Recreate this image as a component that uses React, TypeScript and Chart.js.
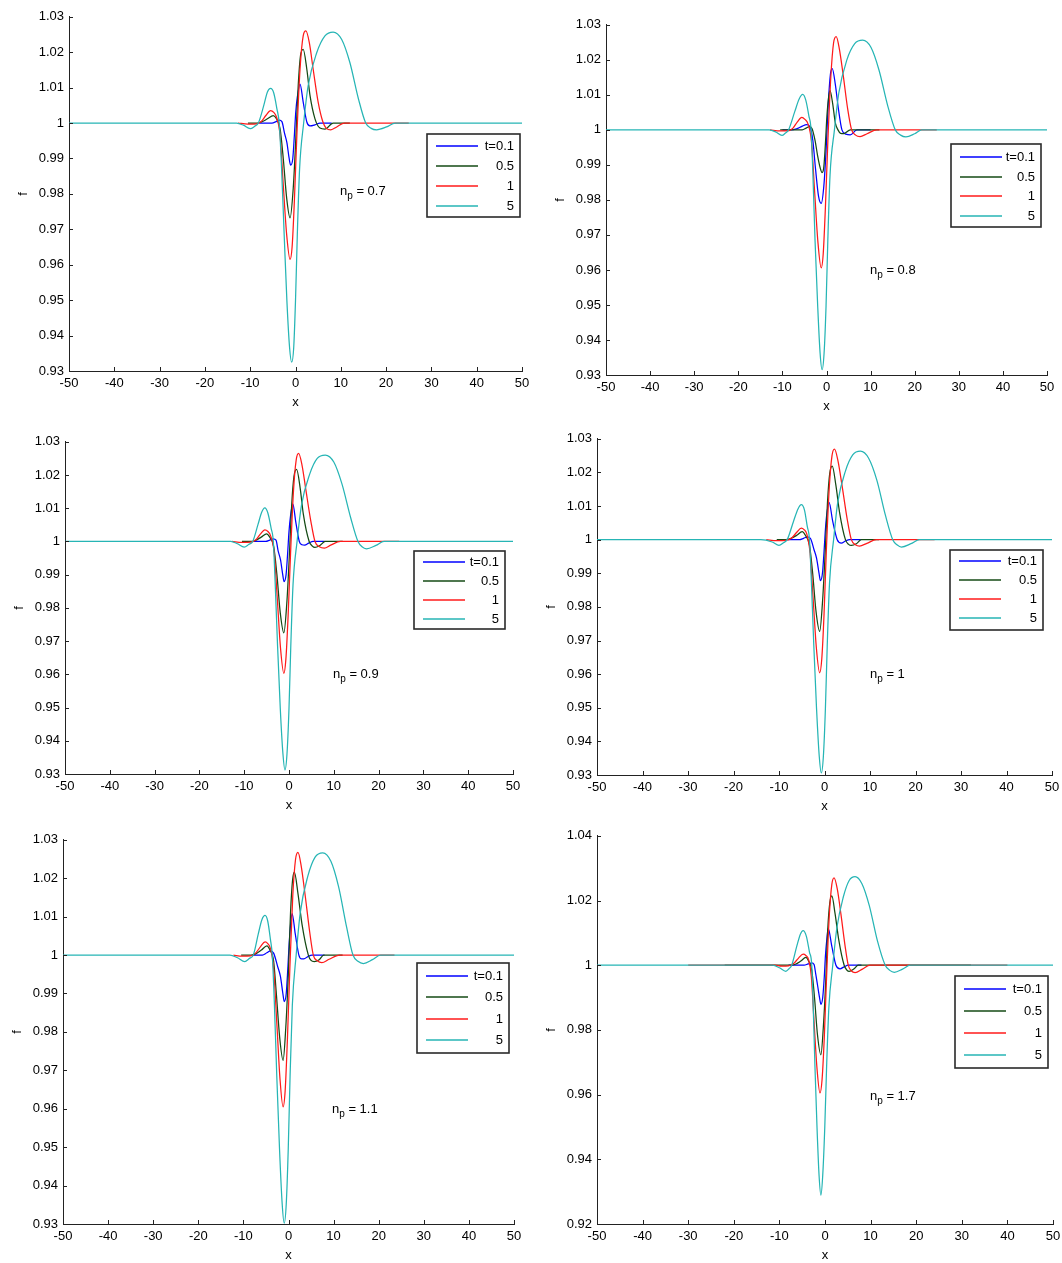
import React, { useEffect, useRef } from 'react';
import { Chart, registerables } from 'chart.js';
Chart.register(...registerables);

// ---------- tick labels / categories ----------
const X_TICKS = [-50, -40, -30, -20, -10, 0, 10, 20, 30, 40, 50];
const Y_TICKS_A = [0.93, 0.94, 0.95, 0.96, 0.97, 0.98, 0.99, 1, 1.01, 1.02, 1.03];
const Y_TICKS_B = [0.92, 0.94, 0.96, 0.98, 1, 1.02, 1.04];
const SERIES_LABELS = ['t=0.1', '0.5', '1', '5'];
const SERIES_COLORS = ['#0000ff', '#144a14', '#ff1a1a', '#26b5b5'];
const NP_VALUES = ['0.7', '0.8', '0.9', '1', '1.1', '1.7'];

// ---------- n_p = 0.7 ----------
const P1_T01 = [[-8,1],[-5.2,1],[-4.3,1.0004],[-3.6,1.0008],[-3.0,1.0004],[-2.4,0.997],[-1.9,0.9945],[-1.4,0.990],[-1.07,0.9881],[-0.6,0.990],[-0.25,0.9965],[0.05,1.003],[0.4,1.0073],[1.0,1.011],[1.7,1.0059],[2.5,1.0003],[3.2,0.9992],[4.3,0.9995],[5.4,1],[8,1]];
const P1_T05 = [[-10.5,1],[-8.5,1],[-7.5,1.0003],[-6.2,1.0012],[-4.9,1.0021],[-4.2,1.0012],[-3.4,0.9984],[-2.7,0.990],[-1.95,0.9788],[-1.2,0.9732],[-0.5,0.9816],[0.04,0.9947],[0.6,1.0106],[1.1,1.019],[1.7,1.0208],[2.5,1.0152],[3.2,1.0078],[4.3,1.0012],[5.4,0.9986],[6.5,0.9983],[8.3,1],[12,1]];
const P1_T1 = [[-12.7,1],[-10.5,0.9997],[-8.5,0.9998],[-7.5,1.0005],[-6.5,1.0022],[-5.5,1.0035],[-4.8,1.003],[-4.2,1.0017],[-3.4,0.9965],[-2.7,0.9825],[-1.95,0.9685],[-1.2,0.9615],[-0.75,0.965],[-0.25,0.978],[0.3,0.9965],[1.0,1.0152],[1.7,1.0246],[2.3,1.026],[3.05,1.0227],[3.9,1.0152],[5.0,1.0059],[6.0,1.0005],[6.8,0.9985],[7.8,0.9981],[9.1,0.9989],[10.8,1],[25,1]];
const P1_T5 = [[-50,1],[-13,1],[-11.5,0.9994],[-10,0.9984],[-9,0.9991],[-8.2,1],[-7,1.005],[-6.2,1.0088],[-5.5,1.0098],[-4.8,1.0085],[-4.1,1.004],[-3.6,1.0],[-3.1,0.988],[-2.5,0.9685],[-1.9,0.9498],[-1.3,0.9365],[-0.85,0.9325],[-0.4,0.9365],[0.0,0.9498],[0.4,0.9685],[0.9,0.987],[1.8,1.0],[2.8,1.0106],[4.7,1.0199],[6.5,1.0246],[8.3,1.0257],[10.2,1.0236],[12,1.0171],[13.9,1.0068],[15.5,1.0],[16.7,0.9985],[17.9,0.9981],[20.1,0.9989],[22,1],[50,1]];

// ---------- n_p = 0.8 ----------
const P2_T01 = [[-10,1],[-8,1],[-6.8,1.0003],[-5.6,1.001],[-4.5,1.0015],[-3.8,1.001],[-3.1,0.997],[-2.5,0.989],[-1.8,0.981],[-1.2,0.979],[-0.6,0.984],[-0.1,0.994],[0.4,1.0075],[0.9,1.016],[1.3,1.0175],[2.0,1.013],[2.7,1.006],[3.5,1.0],[4.4,0.9988],[5.4,0.9986],[6.9,1],[10,1]];
const P2_T05 = [[-10.5,1],[-5.5,1],[-4.6,1.0005],[-3.9,1.0009],[-3.3,1.0004],[-2.6,0.997],[-2.0,0.9925],[-1.4,0.989],[-1.0,0.9878],[-0.6,0.9895],[-0.25,0.996],[0.1,1.004],[0.5,1.0095],[0.8,1.0112],[1.4,1.0075],[2.0,1.002],[2.6,1.0],[3.2,0.999],[3.9,0.9989],[5.4,1],[12,1]];
const P2_T1 = [[-12.8,1],[-10.5,0.9997],[-8.5,0.9998],[-7.6,1.0005],[-6.6,1.0023],[-5.6,1.0036],[-4.9,1.003],[-4.2,1.0017],[-3.4,0.9965],[-2.7,0.9825],[-1.95,0.968],[-1.2,0.9606],[-0.75,0.9645],[-0.25,0.9778],[0.3,0.9965],[1.0,1.0155],[1.6,1.0248],[2.2,1.0266],[2.9,1.0232],[3.8,1.0155],[4.8,1.006],[5.7,1.0],[6.6,0.9985],[7.6,0.9981],[9.2,0.9989],[11.4,1],[25,1]];
const P2_T5 = [[-50,1],[-13,1],[-11.5,0.9994],[-10.1,0.9984],[-9.3,0.9991],[-8.6,1],[-7.2,1.0052],[-6.2,1.0088],[-5.4,1.0101],[-4.7,1.0085],[-4.0,1.004],[-3.5,1.0],[-3.1,0.988],[-2.6,0.9685],[-2.0,0.9498],[-1.45,0.9362],[-1.0,0.9315],[-0.55,0.9362],[-0.1,0.9498],[0.3,0.9685],[0.8,0.987],[1.8,1.0],[2.8,1.0106],[4.6,1.0199],[6.4,1.0246],[8.2,1.0256],[10.1,1.0235],[11.9,1.0171],[13.9,1.0068],[15.6,1.0],[16.8,0.9985],[18,0.998],[20,0.9989],[21.6,1],[50,1]];

// ---------- n_p = 0.9 ----------
const P3_T01 = [[-8,1],[-5.2,1],[-4.3,1.0004],[-3.5,1.0008],[-2.9,1.0004],[-2.4,0.997],[-1.9,0.9945],[-1.4,0.990],[-1.1,0.9879],[-0.65,0.990],[-0.3,0.9965],[0.0,1.003],[0.35,1.0078],[0.85,1.0113],[1.5,1.006],[2.3,1.0],[2.9,0.999],[3.5,0.9989],[4.4,0.9995],[5.4,1],[8,1]];
const P3_T05 = [[-10.5,1],[-8.5,1],[-7.5,1.0003],[-6.2,1.0013],[-5.0,1.0023],[-4.3,1.0013],[-3.4,0.9984],[-2.7,0.990],[-1.95,0.9785],[-1.15,0.9725],[-0.5,0.9812],[0.04,0.9947],[0.6,1.011],[1.1,1.0195],[1.7,1.0217],[2.5,1.016],[3.2,1.0082],[4.5,1.0],[5.2,0.9986],[5.8,0.9982],[6.9,0.9988],[8.1,1],[12,1]];
const P3_T1 = [[-12.7,1],[-10.5,0.9997],[-8.5,0.9998],[-7.4,1.0005],[-6.4,1.0022],[-5.4,1.0035],[-4.7,1.003],[-4.1,1.0017],[-3.3,0.9965],[-2.6,0.9825],[-1.9,0.968],[-1.15,0.9603],[-0.7,0.9645],[-0.2,0.9775],[0.35,0.9965],[1.0,1.0152],[1.6,1.0245],[2.15,1.0265],[2.9,1.023],[3.8,1.0152],[4.9,1.0059],[5.8,1.0],[6.8,0.9984],[7.9,0.998],[9.3,0.9989],[11.5,1],[24.6,1]];
const P3_T5 = [[-50,1],[-13,1],[-11.5,0.9993],[-10,0.9983],[-9,0.9991],[-8.1,1],[-6.9,1.0052],[-6.1,1.0088],[-5.4,1.0101],[-4.7,1.0085],[-4.0,1.004],[-3.5,1.0],[-3.1,0.988],[-2.55,0.9685],[-1.95,0.9498],[-1.35,0.9360],[-0.9,0.9312],[-0.45,0.9360],[0.0,0.9498],[0.4,0.9685],[0.9,0.987],[1.8,1.0],[2.8,1.011],[4.6,1.0202],[6.3,1.025],[8.1,1.026],[10,1.0239],[11.8,1.0174],[13.8,1.007],[15.4,1.0],[16.3,0.9984],[17.3,0.9978],[19.4,0.9988],[21.2,1],[50,1]];

// ---------- n_p = 1 ----------
const P4_T01 = [[-8,1],[-5.5,1],[-4.6,1.0004],[-3.8,1.0008],[-3.1,1.0004],[-2.3,0.997],[-1.75,0.9945],[-1.2,0.990],[-0.9,0.9878],[-0.45,0.990],[-0.1,0.9965],[0.2,1.003],[0.5,1.0075],[1.0,1.0111],[1.8,1.0055],[2.8,1.0],[3.7,0.999],[4.6,0.9996],[5.5,1],[8,1]];
const P4_T05 = [[-10.5,1],[-8.5,1],[-7.5,1.0003],[-6.1,1.0013],[-4.9,1.0024],[-4.2,1.0013],[-3.3,0.9984],[-2.6,0.990],[-1.85,0.9785],[-1.06,0.9727],[-0.45,0.9812],[0.1,0.9947],[0.65,1.011],[1.15,1.0197],[1.7,1.0219],[2.5,1.0162],[3.3,1.0082],[4.6,1.0],[5.3,0.9986],[5.9,0.9983],[7.0,0.9988],[8.1,1],[12,1]];
const P4_T1 = [[-12.8,1],[-10.5,0.9997],[-8.5,0.9998],[-7.2,1.0005],[-6.1,1.0022],[-5.1,1.0034],[-4.5,1.003],[-3.9,1.0017],[-3.2,0.9965],[-2.5,0.9825],[-1.8,0.968],[-1.06,0.9604],[-0.6,0.9645],[-0.1,0.9778],[0.4,0.9965],[1.05,1.0155],[1.65,1.025],[2.2,1.0269],[2.95,1.0235],[3.9,1.0157],[5.0,1.006],[5.9,1.0],[6.8,0.9985],[7.7,0.9981],[9.3,0.9989],[11.4,1],[24.2,1]];
const P4_T5 = [[-50,1],[-14,1],[-11.5,0.9993],[-10,0.9983],[-9,0.9991],[-8.2,1],[-6.8,1.0055],[-5.8,1.0092],[-5.1,1.0104],[-4.4,1.0088],[-3.8,1.004],[-3.3,1.0],[-2.9,0.988],[-2.35,0.9685],[-1.75,0.9498],[-1.15,0.9355],[-0.7,0.9306],[-0.25,0.9355],[0.2,0.9498],[0.6,0.9685],[1.1,0.987],[2.0,1.0],[2.9,1.011],[4.6,1.0204],[6.2,1.0252],[7.9,1.0263],[9.7,1.0242],[11.5,1.0177],[13.4,1.0072],[15,1.0],[16,0.9984],[16.9,0.9978],[19,0.9988],[20.9,1],[50,1]];

// ---------- n_p = 1.1 ----------
const P5_T01 = [[-8,1],[-5.8,1],[-4.8,1.0006],[-4.0,1.0011],[-3.3,1.0005],[-2.4,0.997],[-1.8,0.9945],[-1.25,0.990],[-0.95,0.9879],[-0.5,0.990],[-0.15,0.9965],[0.15,1.003],[0.45,1.0078],[0.8,1.0108],[1.5,1.0055],[2.3,1.0],[2.9,0.999],[3.4,0.999],[4.3,0.9996],[5.2,1],[8,1]];
const P5_T05 = [[-10.5,1],[-8.3,1],[-7.3,1.0003],[-6.0,1.0013],[-4.8,1.0024],[-4.1,1.0013],[-3.3,0.9984],[-2.7,0.990],[-1.95,0.9785],[-1.2,0.9726],[-0.6,0.9812],[-0.05,0.9947],[0.45,1.011],[0.9,1.0195],[1.3,1.0216],[2.1,1.016],[3.0,1.008],[4.4,1.0],[5.0,0.9986],[5.7,0.9983],[6.8,0.9988],[7.8,1],[12,1]];
const P5_T1 = [[-12.2,1],[-10.3,0.9997],[-8.4,0.9998],[-7.3,1.0005],[-6.2,1.0022],[-5.2,1.0034],[-4.6,1.003],[-4.0,1.0017],[-3.3,0.9965],[-2.6,0.9825],[-1.9,0.968],[-1.2,0.9605],[-0.75,0.9645],[-0.25,0.9778],[0.3,0.9965],[0.95,1.0155],[1.55,1.0248],[2.1,1.0267],[2.8,1.0233],[3.7,1.0155],[4.7,1.006],[5.5,1.0],[6.4,0.9985],[7.4,0.998],[9.0,0.9989],[11.3,1],[23.5,1]];
const P5_T5 = [[-50,1],[-13,1],[-11.3,0.9993],[-9.7,0.9983],[-8.7,0.9991],[-7.8,1],[-6.7,1.0055],[-5.9,1.0092],[-5.2,1.0103],[-4.6,1.0088],[-4.0,1.004],[-3.6,1.0],[-3.15,0.988],[-2.6,0.9685],[-2.0,0.9498],[-1.4,0.9352],[-0.95,0.9302],[-0.5,0.9352],[-0.05,0.9498],[0.35,0.9685],[0.85,0.987],[1.7,1.0],[2.6,1.011],[4.3,1.0206],[5.9,1.0255],[7.6,1.0266],[9.4,1.0244],[11.1,1.0178],[12.9,1.0072],[14.3,1.0],[15.4,0.9984],[16.6,0.9978],[18.6,0.9988],[20.4,1],[50,1]];

// ---------- n_p = 1.7 ----------
const P6_T01 = [[-8,1],[-4.6,1],[-3.7,1.0004],[-2.9,1.0007],[-2.4,1.0002],[-2.0,0.997],[-1.6,0.9935],[-1.2,0.990],[-0.9,0.9879],[-0.5,0.990],[-0.15,0.9965],[0.1,1.003],[0.4,1.008],[0.7,1.0114],[1.5,1.0058],[2.4,1.0],[3.3,0.9989],[4.2,0.9995],[5.1,1],[8,1]];
const P6_T05 = [[-22,1],[-7.5,1],[-6.5,1.0003],[-5.3,1.0013],[-4.2,1.0024],[-3.6,1.0013],[-2.9,0.9984],[-2.3,0.990],[-1.65,0.9785],[-0.9,0.9723],[-0.35,0.9812],[0.15,0.9947],[0.6,1.011],[1.05,1.0193],[1.5,1.0214],[2.2,1.016],[3.0,1.008],[4.2,1.0],[4.8,0.9985],[5.3,0.9981],[6.3,0.9988],[7.3,1],[32,1]];
const P6_T1 = [[-30,1],[-11,1],[-9.5,0.9997],[-8,0.9998],[-6.9,1.0005],[-5.8,1.0022],[-4.8,1.0034],[-4.2,1.003],[-3.6,1.0017],[-3.0,0.9965],[-2.4,0.9825],[-1.75,0.968],[-1.1,0.9605],[-0.65,0.9645],[-0.15,0.9778],[0.35,0.9965],[0.95,1.0155],[1.5,1.025],[2.0,1.027],[2.7,1.0235],[3.5,1.0157],[4.4,1.006],[5.1,1.0],[5.8,0.9982],[6.6,0.9977],[8.2,0.9988],[9.9,1],[40,1]];
const P6_T5 = [[-50,1],[-11.5,1],[-10,0.9992],[-8.6,0.9981],[-7.9,0.9989],[-7.3,1],[-6.2,1.0058],[-5.4,1.0096],[-4.8,1.0107],[-4.1,1.009],[-3.4,1.004],[-2.9,1.0],[-2.6,0.988],[-2.2,0.9685],[-1.75,0.9498],[-1.3,0.935],[-0.9,0.9289],[-0.5,0.935],[-0.05,0.9498],[0.35,0.9685],[0.85,0.987],[1.7,1.0],[2.6,1.0115],[4.0,1.021],[5.3,1.0262],[6.6,1.0274],[8.1,1.0252],[9.7,1.0185],[11.5,1.0075],[13.2,1.0],[14.2,0.9984],[15.2,0.9978],[17,0.9988],[18.7,1],[50,1]];

// ---------- layout (pixel geometry, not data) ----------
const FONT = '"Liberation Sans", Arial, sans-serif';
const AXIS_COLOR = '#222';
const Y_AXIS_W = 60;
const X_AXIS_H = 40;
const PAD_TOP = 10;
const PAD_RIGHT = 15;

const PANELS = [
  { series: [P1_T01, P1_T05, P1_T1, P1_T5], yMin: 0.93, yMax: 1.03, yTicks: Y_TICKS_A, box: { L: 69, T: 14, R: 522, B: 371 }, legend: { x: 358, y: 117, w: 93, h: 83, first: 12, step: 20 }, note: { x: 271, y: 178 } },
  { series: [P2_T01, P2_T05, P2_T1, P2_T5], yMin: 0.93, yMax: 1.03, yTicks: Y_TICKS_A, box: { L: 606, T: 22, R: 1047, B: 375 }, legend: { x: 345, y: 119, w: 90, h: 83, first: 13, step: 19.7 }, note: { x: 264, y: 249 } },
  { series: [P3_T01, P3_T05, P3_T1, P3_T5], yMin: 0.93, yMax: 1.03, yTicks: Y_TICKS_A, box: { L: 65, T: 439, R: 513, B: 774 }, legend: { x: 349, y: 109, w: 91, h: 78, first: 11, step: 19 }, note: { x: 268, y: 236 } },
  { series: [P4_T01, P4_T05, P4_T1, P4_T5], yMin: 0.93, yMax: 1.03, yTicks: Y_TICKS_A, box: { L: 597, T: 436, R: 1052, B: 775 }, legend: { x: 353, y: 111, w: 93, h: 80, first: 11, step: 19 }, note: { x: 273, y: 239 } },
  { series: [P5_T01, P5_T05, P5_T1, P5_T5], yMin: 0.93, yMax: 1.03, yTicks: Y_TICKS_A, box: { L: 63, T: 837, R: 514, B: 1224 }, legend: { x: 354, y: 123, w: 92, h: 90, first: 13, step: 21.4 }, note: { x: 269, y: 273 } },
  { series: [P6_T01, P6_T05, P6_T1, P6_T5], yMin: 0.92, yMax: 1.04, yTicks: Y_TICKS_B, box: { L: 597, T: 833, R: 1053, B: 1224 }, legend: { x: 358, y: 140, w: 93, h: 92, first: 13, step: 22 }, note: { x: 273, y: 264 } },
];

const fmt = (v: number) => String(+Number(v).toFixed(2));

const decorPlugin = {
  id: 'decor',
  afterDraw(chart: any, _args: any, opts: any) {
    const { ctx, chartArea: a, scales } = chart;
    ctx.save();
    // inward tick marks (MATLAB style)
    ctx.strokeStyle = AXIS_COLOR;
    ctx.lineWidth = 1;
    ctx.beginPath();
    scales.x.ticks.forEach((t: any) => {
      const px = Math.round(scales.x.getPixelForValue(t.value)) + 0.5;
      ctx.moveTo(px, a.bottom);
      ctx.lineTo(px, a.bottom - 4);
    });
    scales.y.ticks.forEach((t: any) => {
      const py = Math.round(scales.y.getPixelForValue(t.value)) + 0.5;
      ctx.moveTo(a.left, py);
      ctx.lineTo(a.left + 4, py);
    });
    ctx.stroke();

    // legend box
    const L = opts.legend;
    const bx = Math.round(a.left + L.x);
    const by = Math.round(a.top + L.y);
    ctx.fillStyle = '#fff';
    ctx.fillRect(bx, by, L.w, L.h);
    ctx.strokeStyle = '#2a2a2a';
    ctx.lineWidth = 1.6;
    ctx.strokeRect(bx, by, L.w, L.h);
    ctx.font = '13px ' + FONT;
    ctx.textAlign = 'right';
    ctx.textBaseline = 'middle';
    chart.data.datasets.forEach((ds: any, i: number) => {
      const cy = Math.round(by + L.first + i * L.step);
      ctx.strokeStyle = ds.borderColor;
      ctx.lineWidth = 1.5;
      ctx.beginPath();
      ctx.moveTo(bx + 9, cy);
      ctx.lineTo(bx + 51, cy);
      ctx.stroke();
      ctx.fillStyle = '#000';
      ctx.fillText(ds.label, bx + L.w - 6, cy + 0.5);
    });

    // n_p annotation
    const N = opts.note;
    let nx = a.left + N.x;
    const ny = a.top + N.y;
    ctx.textAlign = 'left';
    ctx.textBaseline = 'alphabetic';
    ctx.fillStyle = '#000';
    ctx.font = '13px ' + FONT;
    ctx.fillText('n', nx, ny);
    nx += ctx.measureText('n').width;
    ctx.font = '10px ' + FONT;
    ctx.fillText('p', nx, ny + 4);
    nx += ctx.measureText('p').width;
    ctx.font = '13px ' + FONT;
    ctx.fillText(' = ' + opts.np, nx, ny);
    ctx.restore();
  },
};

function Panel({ idx }: { idx: number }) {
  const ref = useRef<HTMLCanvasElement | null>(null);
  const p = PANELS[idx];
  const plotW = p.box.R - p.box.L;
  const plotH = p.box.B - p.box.T;
  const cw = Y_AXIS_W + plotW + PAD_RIGHT;
  const ch = PAD_TOP + plotH + X_AXIS_H;

  useEffect(() => {
    if (!ref.current) return;
    const order = [3, 2, 1, 0];
    const chart = new Chart(ref.current, {
      type: 'line',
      data: {
        datasets: p.series.map((s, i) => ({
          label: SERIES_LABELS[i],
          data: s.map(([x, y]) => ({ x, y })),
          borderColor: SERIES_COLORS[i],
          backgroundColor: SERIES_COLORS[i],
          borderWidth: 1.25,
          pointRadius: 0,
          fill: false,
          cubicInterpolationMode: 'monotone' as const,
          order: order[i],
        })),
      },
      options: {
        animation: false,
        responsive: false,
        devicePixelRatio: 1,
        layout: { padding: { left: 0, top: PAD_TOP, right: PAD_RIGHT, bottom: 0 } },
        plugins: {
          legend: { display: false },
          tooltip: { enabled: false },
          decor: { legend: p.legend, note: p.note, np: NP_VALUES[idx] },
        } as any,
        scales: {
          x: {
            type: 'linear',
            min: -50,
            max: 50,
            afterBuildTicks: (s: any) => { s.ticks = X_TICKS.map((v) => ({ value: v })); },
            afterFit: (s: any) => { s.height = X_AXIS_H; },
            grid: { display: false, drawTicks: false },
            border: { display: true, color: AXIS_COLOR, width: 1 },
            ticks: { autoSkip: false, maxRotation: 0, padding: 5, color: '#000', font: { family: FONT, size: 13 }, callback: (v: any) => fmt(v) },
            title: { display: true, text: 'x', color: '#000', font: { family: FONT, size: 13 }, padding: { top: 0, bottom: 1 } },
          },
          y: {
            type: 'linear',
            min: p.yMin,
            max: p.yMax,
            afterBuildTicks: (s: any) => { s.ticks = p.yTicks.map((v) => ({ value: v })); },
            afterFit: (s: any) => { s.width = Y_AXIS_W; },
            grid: { display: false, drawTicks: false },
            border: { display: true, color: AXIS_COLOR, width: 1 },
            ticks: { autoSkip: false, padding: 5, color: '#000', font: { family: FONT, size: 13 }, callback: (v: any) => fmt(v) },
            title: { display: true, text: 'f', color: '#000', font: { family: FONT, size: 13 }, padding: { top: 7, bottom: 0 } },
          },
        },
      },
      plugins: [decorPlugin],
    });
    return () => chart.destroy();
  }, [idx]);

  return (
    <canvas
      ref={ref}
      width={cw}
      height={ch}
      style={{ position: 'absolute', left: p.box.L - Y_AXIS_W, top: p.box.T - PAD_TOP, width: cw, height: ch }}
    />
  );
}

export default function App() {
  return (
    <div style={{ position: 'absolute', left: 0, top: 0, width: 1062, height: 1263, background: '#fff', overflow: 'hidden' }}>
      {PANELS.map((_, i) => (
        <Panel key={i} idx={i} />
      ))}
    </div>
  );
}
